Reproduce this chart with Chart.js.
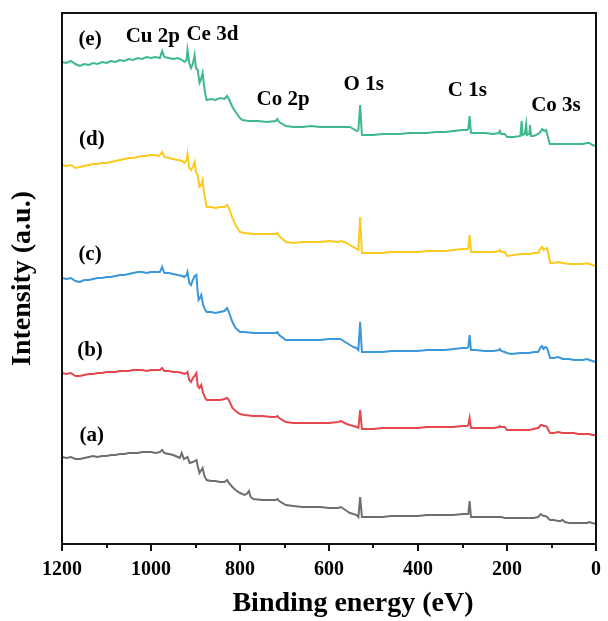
<!DOCTYPE html>
<html>
<head>
<meta charset="utf-8">
<script src="https://cdn.jsdelivr.net/npm/chart.js@4/dist/chart.umd.min.js"></script>
<style>
  html, body { margin: 0; padding: 0; background: #fff; }
  #wrap { width: 608px; height: 621px; }
</style>
</head>
<body>
<div id="wrap"><canvas id="c" width="608" height="621"></canvas></div>
<script>
// XPS survey spectra, [binding energy (eV), intensity (a.u., stacked)]
const spectrumA = [
  [1200,87],[1190,86],[1180,87],[1170,85],[1160,85],[1150,86],[1140,87],[1130,88],[1120,87],[1110,88],
  [1100,88],[1090,89],[1080,89],[1070,90],[1060,90],[1050,91],[1040,91],[1030,91],[1020,92],[1010,92],
  [1000,92],[990,91],[980,92],[975,94],[970,91],[960,90],[950,89],[940,87],[935,86],[931,91],[926,85],
  [918,87],[913,81],[906,82],[898,84],[895,78],[891,71],[884,76],[880,68],[875,64],[865,63],[855,63],
  [845,62],[835,62],[829,64],[825,61],[817,57],[810,54],[800,51],[790,49],[785,50],[780,53],[776,47],
  [770,45],[750,44],[730,44],[720,44],[716,45],[712,43],[697,39],[680,38],[660,37],[640,37],[620,37],
  [600,36],[580,36],[573,37],[560,33],[553,31],[545,30],[538,29],[534,27],[530,47],[526,27],[520,27],
  [500,27],[480,27],[460,28],[440,28],[420,28],[400,28],[380,29],[360,29],[340,29],[320,29],[300,30],
  [290,30],[287,30],[284,43],[281,27],[270,27],[250,27],[230,27],[218,27],[213,27],[205,26],[200,26],
  [190,26],[170,26],[150,26],[140,26],[130,27],[124,30],[121,29],[118,28],[114,28],[110,27],[106,25],
  [103,24],[95,24],[85,23],[80,23],[75,24],[70,22],[60,21],[50,21],[40,21],[30,21],[20,21],[15,22],
  [8,21],[0,20]
];
const spectrumB = [
  [1200,171],[1190,170],[1180,171],[1170,168],[1160,168],[1150,169],[1140,170],[1130,170],[1120,171],
  [1110,171],[1100,172],[1090,172],[1080,172],[1070,173],[1060,173],[1050,173],[1040,174],[1030,174],
  [1020,174],[1010,173],[1000,174],[990,174],[980,174],[975,176],[970,173],[960,173],[950,172],[940,172],
  [930,171],[925,170],[920,171],[918,172],[914,164],[910,162],[906,166],[902,168],[898,171],[895,158],
  [891,156],[887,159],[883,151],[878,146],[875,144],[865,144],[855,144],[845,144],[835,145],[829,146],
  [825,144],[817,136],[810,133],[800,130],[790,129],[770,128],[750,128],[730,127],[720,127],[716,128],
  [712,126],[697,122],[680,121],[660,121],[640,121],[620,121],[600,121],[580,122],[573,123],[560,120],
  [553,119],[545,118],[538,117],[534,116],[530,134],[526,115],[520,115],[500,115],[480,116],[460,116],
  [440,116],[420,116],[400,116],[380,117],[360,117],[340,117],[320,117],[300,118],[290,118],[287,119],
  [284,126],[281,116],[270,116],[250,116],[230,116],[218,117],[216,118],[213,117],[205,117],[200,114],
  [190,114],[170,114],[150,114],[140,115],[130,116],[124,119],[121,119],[118,118],[114,118],[110,117],
  [106,113],[103,111],[95,111],[85,112],[75,111],[60,111],[50,111],[40,110],[30,110],[20,110],[15,110],
  [8,109],[0,109]
];
const spectrumC = [
  [1200,266],[1190,265],[1180,266],[1170,263],[1160,262],[1150,264],[1140,264],[1130,265],[1120,266],
  [1110,266],[1100,267],[1090,267],[1080,268],[1070,269],[1060,269],[1050,270],[1040,271],[1030,272],
  [1020,272],[1010,271],[1000,272],[990,272],[980,272],[975,277],[970,271],[960,271],[950,270],[940,269],
  [930,268],[925,267],[920,269],[918,272],[914,261],[910,259],[906,264],[902,268],[898,269],[895,252],
  [893,244],[890,246],[887,249],[883,239],[878,234],[875,232],[865,232],[855,231],[845,232],[835,233],
  [829,236],[825,232],[817,222],[810,216],[800,212],[790,212],[770,211],[750,211],[730,211],[720,211],
  [716,212],[712,209],[697,204],[680,204],[660,204],[640,204],[620,204],[600,205],[580,205],[575,205],
  [560,201],[553,199],[545,197],[538,196],[534,194],[530,222],[526,192],[520,192],[500,192],[480,192],
  [460,193],[440,193],[420,193],[400,193],[380,194],[360,194],[340,194],[320,195],[300,196],[290,196],
  [287,197],[284,209],[281,194],[270,194],[250,193],[230,193],[218,194],[216,195],[213,193],[205,192],
  [200,191],[190,190],[170,191],[150,191],[140,192],[130,192],[124,197],[121,198],[118,195],[114,197],
  [110,196],[106,190],[103,186],[95,186],[85,187],[75,185],[60,185],[50,184],[40,184],[30,184],[20,185],
  [15,184],[8,183],[0,182]
];
const spectrumD = [
  [1200,379],[1190,378],[1180,379],[1170,376],[1160,377],[1150,378],[1140,379],[1130,380],[1120,380],
  [1110,381],[1100,381],[1090,382],[1080,383],[1070,384],[1060,385],[1050,386],[1040,386],[1030,387],
  [1020,388],[1010,388],[1000,389],[990,389],[982,388],[975,392],[970,387],[960,386],[950,385],[940,384],
  [930,383],[925,381],[920,384],[918,390],[914,376],[910,374],[906,377],[902,382],[899,372],[895,369],
  [891,357],[888,358],[884,364],[881,352],[878,344],[875,337],[865,337],[855,336],[845,337],[835,337],
  [829,339],[825,336],[817,326],[810,319],[800,312],[790,311],[770,310],[750,310],[730,310],[720,310],
  [716,311],[712,308],[697,302],[680,301],[660,302],[640,302],[620,302],[600,303],[580,302],[573,303],
  [560,301],[553,299],[545,297],[538,295],[534,294],[530,327],[526,291],[520,291],[500,291],[480,291],
  [460,292],[440,292],[420,292],[400,292],[380,293],[360,293],[340,293],[320,294],[300,295],[290,295],
  [287,296],[284,309],[281,292],[270,292],[250,292],[230,292],[218,293],[216,294],[213,292],[205,292],
  [200,288],[185,289],[170,290],[150,290],[140,291],[130,291],[124,296],[121,297],[118,294],[114,295],
  [110,296],[106,288],[103,281],[95,281],[85,282],[75,281],[60,280],[50,280],[40,280],[30,280],[20,281],
  [15,280],[8,279],[0,278]
];
const spectrumE = [
  [1200,482],[1190,481],[1180,483],[1170,480],[1160,478],[1150,480],[1140,479],[1130,481],[1120,480],
  [1110,482],[1100,481],[1090,483],[1080,482],[1070,484],[1060,483],[1050,485],[1040,484],[1030,486],
  [1020,485],[1010,487],[1000,486],[990,487],[980,486],[975,493],[970,487],[960,486],[950,485],[940,486],
  [930,484],[925,482],[920,484],[918,494],[914,481],[910,476],[906,480],[902,489],[899,476],[895,474],
  [891,461],[888,464],[884,471],[881,459],[878,450],[875,444],[865,445],[855,444],[845,446],[835,445],
  [829,448],[825,445],[817,437],[810,432],[800,426],[795,424],[780,423],[760,423],[740,422],[720,423],
  [716,425],[712,422],[697,418],[680,417],[660,417],[640,418],[620,417],[600,417],[580,417],[560,417],
  [553,417],[545,415],[538,413],[534,414],[530,439],[526,409],[520,409],[500,409],[480,410],[460,410],
  [440,410],[420,411],[400,411],[380,411],[360,412],[340,412],[320,413],[300,414],[290,414],[287,415],
  [284,428],[281,411],[270,411],[250,411],[230,410],[218,411],[216,413],[213,410],[205,410],[200,407],
  [185,407],[170,408],[167,423],[165,409],[160,410],[157,420],[155,409],[150,410],[148,419],[146,408],
  [140,408],[130,410],[125,412],[121,415],[116,413],[112,414],[108,407],[104,400],[90,400],[70,400],
  [50,400],[30,400],[20,401],[15,401],[8,399],[0,398]
];

const seriesNames = ['(a)', '(b)', '(c)', '(d)', '(e)'];
const seriesColors = ['#6E6E6E', '#E4474C', '#3A97D9', '#FBCB1E', '#3DB88F'];
const spectra = [spectrumA, spectrumB, spectrumC, spectrumD, spectrumE];

// Text placed in data coordinates: [text, energy, intensity]
const curveLabels = [
  ['(a)', 1133, 108], ['(b)', 1137, 193], ['(c)', 1137, 289], ['(d)', 1133, 404], ['(e)', 1137, 504]
];
const peakLabels = [
  ['Cu 2p', 996, 507], ['Ce 3d', 862, 509], ['Co 2p', 703, 444],
  ['O 1s', 522, 459], ['C 1s', 289, 453], ['Co 3s', 90, 438]
];
const xTitle = 'Binding energy (eV)';

const SERIF = '"Liberation Serif", "Times New Roman", serif';

const framePlugin = {
  id: 'frameAndText',
  afterDraw(chart) {
    const { ctx, chartArea: a, scales } = chart;
    const x = scales.x, y = scales.y;
    ctx.save();
    // box around the plot
    ctx.strokeStyle = '#111';
    ctx.lineWidth = 2;
    ctx.strokeRect(a.left, a.top, a.right - a.left, a.bottom - a.top);
    // minor ticks every 100 eV between the labelled ones
    ctx.beginPath();
    for (let v = 100; v < 1200; v += 200) {
      const px = Math.round(x.getPixelForValue(v));
      ctx.moveTo(px, a.bottom);
      ctx.lineTo(px, a.bottom + 4);
    }
    ctx.stroke();
    // annotations
    ctx.fillStyle = '#000';
    ctx.font = 'bold 21px ' + SERIF;
    ctx.textAlign = 'center';
    ctx.textBaseline = 'middle';
    for (const [t, e, i] of curveLabels.concat(peakLabels)) {
      ctx.fillText(t, x.getPixelForValue(e), y.getPixelForValue(i));
    }
    // x-axis title, set a little right of the plot centre
    ctx.font = 'bold 28px ' + SERIF;
    ctx.fillText(xTitle, (a.left + a.right) / 2 + 24, x.bottom - 17);
    ctx.restore();
  }
};

new Chart(document.getElementById('c'), {
  type: 'line',
  data: {
    datasets: spectra.map((s, k) => ({
      label: seriesNames[k],
      data: s.map(([e, i]) => ({ x: e, y: i })),
      borderColor: seriesColors[k],
      backgroundColor: seriesColors[k],
      borderWidth: 2,
      pointRadius: 0,
      tension: 0,
      fill: false
    }))
  },
  options: {
    responsive: false,
    animation: false,
    layout: { padding: { top: 13, right: 10, left: 0, bottom: 0 } },
    plugins: { legend: { display: false }, tooltip: { enabled: false } },
    scales: {
      x: {
        type: 'linear',
        reverse: true,
        min: 0,
        max: 1200,
        afterFit(scale) { scale.height = 77; },
        border: { display: false },
        grid: {
          drawOnChartArea: false,
          drawTicks: true,
          tickLength: 7,
          lineWidth: 2,
          color: (c) => (c.tick && c.tick.value % 200 === 0) ? '#111' : 'rgba(0,0,0,0)'
        },
        ticks: {
          stepSize: 100,
          autoSkip: false,
          maxRotation: 0,
          padding: 7,
          color: '#000',
          font: { family: SERIF, size: 20, weight: 'bold' },
          callback: (v) => (v % 200 === 0 ? String(v) : '')
        },
        title: { display: false }
      },
      y: {
        min: 0,
        max: 531,
        afterFit(scale) { scale.width = 62; },
        border: { display: false },
        grid: { display: false },
        ticks: { display: false },
        title: {
          display: true,
          text: 'Intensity (a.u.)',
          color: '#000',
          font: { family: SERIF, size: 28, weight: 'bold' },
          padding: { top: 6, bottom: 0 }
        }
      }
    }
  },
  plugins: [framePlugin]
});
</script>
</body>
</html>
